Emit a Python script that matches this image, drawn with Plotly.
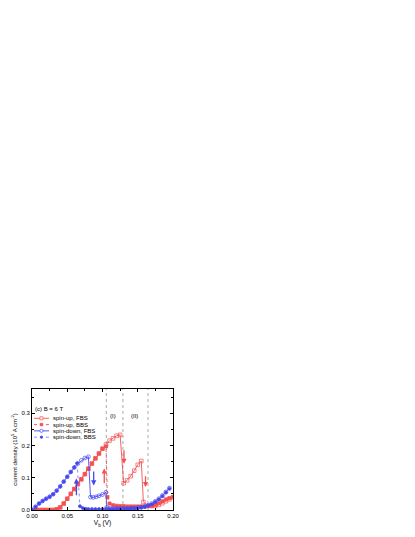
import plotly.graph_objects as go

# ---- data ----
up_fbs_x = [0.0, 0.005, 0.01, 0.015, 0.02, 0.025, 0.03, 0.035, 0.04, 0.045, 0.05, 0.055, 0.06, 0.065,
            0.07, 0.075, 0.08, 0.085, 0.09, 0.095, 0.1, 0.105, 0.11, 0.115, 0.12, 0.125, 0.13, 0.135,
            0.14, 0.145, 0.15, 0.155, 0.158, 0.165, 0.17, 0.175, 0.18, 0.185, 0.19, 0.195, 0.2]
up_fbs_y = [0.0, 0.0, 0.0, 0.0, 0.0, 0.0, 0.0, 0.002, 0.008, 0.02, 0.035, 0.05, 0.065, 0.08,
            0.095, 0.111, 0.128, 0.144, 0.16, 0.175, 0.19, 0.203, 0.215, 0.222, 0.23, 0.233, 0.083, 0.092,
            0.105, 0.122, 0.14, 0.152, 0.025, 0.013, 0.012, 0.013, 0.016, 0.021, 0.027, 0.033, 0.04]

up_bbs_x = [0.0, 0.005, 0.01, 0.015, 0.02, 0.025, 0.03, 0.035, 0.04, 0.045, 0.05, 0.055, 0.06, 0.065,
            0.07, 0.075, 0.08, 0.085, 0.09, 0.095, 0.1, 0.105, 0.107, 0.11, 0.115, 0.12, 0.125, 0.13,
            0.135, 0.14, 0.145, 0.15, 0.155, 0.16, 0.165, 0.17, 0.175, 0.18, 0.185, 0.19, 0.195, 0.2]
up_bbs_y = [0.0, 0.0, 0.0, 0.0, 0.0, 0.0, 0.0, 0.002, 0.008, 0.02, 0.035, 0.05, 0.065, 0.08,
            0.095, 0.111, 0.128, 0.144, 0.16, 0.175, 0.19, 0.197, 0.04, 0.02, 0.015, 0.013, 0.012, 0.012,
            0.011, 0.011, 0.011, 0.011, 0.011, 0.011, 0.012, 0.013, 0.016, 0.021, 0.027, 0.033, 0.037, 0.04]

dn_fbs_x = [0.0, 0.005, 0.01, 0.015, 0.02, 0.025, 0.03, 0.035, 0.04, 0.045, 0.05, 0.055, 0.06, 0.065,
            0.07, 0.075, 0.08, 0.083, 0.087, 0.091, 0.095, 0.1, 0.105, 0.106, 0.11, 0.115, 0.12, 0.125,
            0.13, 0.135, 0.14, 0.145, 0.15, 0.155, 0.16, 0.165, 0.17, 0.175, 0.18, 0.185, 0.19, 0.195]
dn_fbs_y = [0.0, 0.01, 0.02, 0.028, 0.035, 0.041, 0.049, 0.06, 0.073, 0.088, 0.103, 0.118, 0.132, 0.144,
            0.154, 0.161, 0.165, 0.04, 0.039, 0.041, 0.044, 0.048, 0.055, 0.008, 0.005, 0.005, 0.005, 0.005,
            0.005, 0.005, 0.006, 0.006, 0.007, 0.009, 0.011, 0.015, 0.02, 0.027, 0.035, 0.045, 0.056, 0.068]

dn_bbs_x = [0.0, 0.005, 0.01, 0.015, 0.02, 0.025, 0.03, 0.035, 0.04, 0.045, 0.05, 0.055, 0.06, 0.064,
            0.068, 0.072, 0.076, 0.08, 0.085, 0.09, 0.095, 0.1, 0.105, 0.11, 0.115, 0.12, 0.125, 0.13,
            0.135, 0.14, 0.145, 0.15, 0.155, 0.16, 0.165, 0.17, 0.175, 0.18, 0.185, 0.19, 0.195]
dn_bbs_y = [0.0, 0.01, 0.02, 0.028, 0.035, 0.041, 0.049, 0.06, 0.073, 0.088, 0.103, 0.118, 0.132, 0.145,
            0.012, 0.006, 0.004, 0.003, 0.003, 0.003, 0.003, 0.003, 0.003, 0.003, 0.003, 0.003, 0.003, 0.003,
            0.003, 0.004, 0.004, 0.005, 0.007, 0.009, 0.013, 0.018, 0.025, 0.033, 0.043, 0.054, 0.066]

region_lines = [0.1054, 0.129, 0.1645]
region_labels = ["(I)", "(II)"]
region_label_x = [0.1155, 0.146]

# arrows: (x, y_tail, y_head, colour)
arrows = [(0.063, 0.041, 0.098, "blue"), (0.0875, 0.124, 0.076, "blue"),
          (0.1025, 0.078, 0.129, "red"), (0.1305, 0.19, 0.143, "red"),
          (0.161, 0.109, 0.071, "red")]

RED = "rgb(245,80,80)"
BLUE = "rgb(70,70,240)"
BLUE_LIGHT = "rgb(130,130,250)"
colors = {"red": RED, "blue": BLUE}

series = [
    dict(name="spin-up, FBS", x=up_fbs_x, y=up_fbs_y, color=RED, mcolor=RED, dash="solid",
         symbol="square-open", shape="rect", fill=False, size=3),
    dict(name="spin-up, BBS", x=up_bbs_x, y=up_bbs_y, color=RED, mcolor=RED, dash="dot",
         symbol="square", shape="rect", fill=True, size=2.6),
    dict(name="spin-down, FBS", x=dn_fbs_x, y=dn_fbs_y, color=BLUE, mcolor=BLUE, dash="solid",
         symbol="circle-open", shape="circle", fill=False, size=3.2),
    dict(name="spin-down, BBS", x=dn_bbs_x, y=dn_bbs_y, color=BLUE_LIGHT, mcolor=BLUE, dash="dot",
         symbol="circle", shape="circle", fill=True, size=2.4),
]

fig = go.Figure()

for s in series:
    fig.add_trace(go.Scatter(x=s["x"], y=s["y"], mode="lines+markers", name=s["name"],
                             showlegend=False,
                             line=dict(color=s["color"], width=0.9, dash=s["dash"]),
                             marker=dict(symbol=s["symbol"], size=s["size"] + 0.6, color=s["mcolor"],
                                         line=dict(width=0.7, color=s["mcolor"]))))

for xv in region_lines:
    fig.add_shape(type="line", x0=xv, x1=xv, y0=0, y1=1, xref="x", yref="paper",
                  line=dict(color="rgb(110,110,110)", width=0.6, dash="dot"))

for lab, xv in zip(region_labels, region_label_x):
    fig.add_annotation(x=xv, y=0.29, text=lab, showarrow=False,
                       font=dict(size=6, color="black"))

for xv, y0, y1, c in arrows:
    fig.add_annotation(x=xv, y=y1, ax=xv, ay=y0, xref="x", yref="y", axref="x", ayref="y",
                       text="", showarrow=True, arrowhead=2, arrowsize=0.8, arrowwidth=1.3,
                       arrowcolor=colors[c])

# compact legend (plotly's own legend rows can't be this tight)
fig.add_annotation(x=0.005, y=0.876, xref="paper", yref="paper", text="(c) B = 6 T",
                   showarrow=False, xanchor="left", font=dict(size=6, color="black"))
leg_y = 0.758
for s in series:
    fig.add_shape(type="line", xref="paper", yref="paper", x0=0.014, x1=0.121, y0=leg_y, y1=leg_y,
                  line=dict(color=s["color"], width=0.9, dash=s["dash"]))
    h = s["size"] / 2
    fig.add_shape(type=s["shape"], xref="paper", yref="paper", xsizemode="pixel", ysizemode="pixel",
                  xanchor=0.067, yanchor=leg_y, x0=-h, x1=h, y0=-h, y1=h,
                  line=dict(color=s["mcolor"], width=0.7),
                  fillcolor=s["mcolor"] if s["fill"] else "white")
    fig.add_annotation(x=0.138, y=leg_y, xref="paper", yref="paper", text=s["name"],
                       showarrow=False, xanchor="left", yanchor="middle",
                       font=dict(size=6, color="black"))
    leg_y -= 0.052

axis_common = dict(showline=True, linecolor="black", linewidth=0.8, mirror="allticks",
                   ticks="inside", ticklen=3, tickcolor="black", tickwidth=0.8,
                   showgrid=False, zeroline=False, automargin=False,
                   tickfont=dict(size=6, color="black"))

fig.update_xaxes(range=[0, 0.2], dtick=0.05, tickformat=".2f",
                 minor=dict(ticks="inside", ticklen=2, dtick=0.025, tickcolor="black"),
                 title=dict(text="V<sub>b</sub> (V)", font=dict(size=6.5, color="black"), standoff=2),
                 **axis_common)
fig.update_yaxes(range=[0, 0.375], dtick=0.1, tickformat=".1f",
                 minor=dict(ticks="inside", ticklen=2, dtick=0.05, tickcolor="black"),
                 title=dict(text="current density (10<sup>5</sup> A cm<sup>-2</sup>)",
                            font=dict(size=6, color="black"), standoff=3),
                 **axis_common)

fig.update_layout(
    width=415, height=537,
    margin=dict(l=24, r=250, t=381, b=35),
    paper_bgcolor="white", plot_bgcolor="white",
    font=dict(family="Liberation Sans, Arial, sans-serif", size=6, color="black"),
    showlegend=False,
)

fig.write_html("out.html")
